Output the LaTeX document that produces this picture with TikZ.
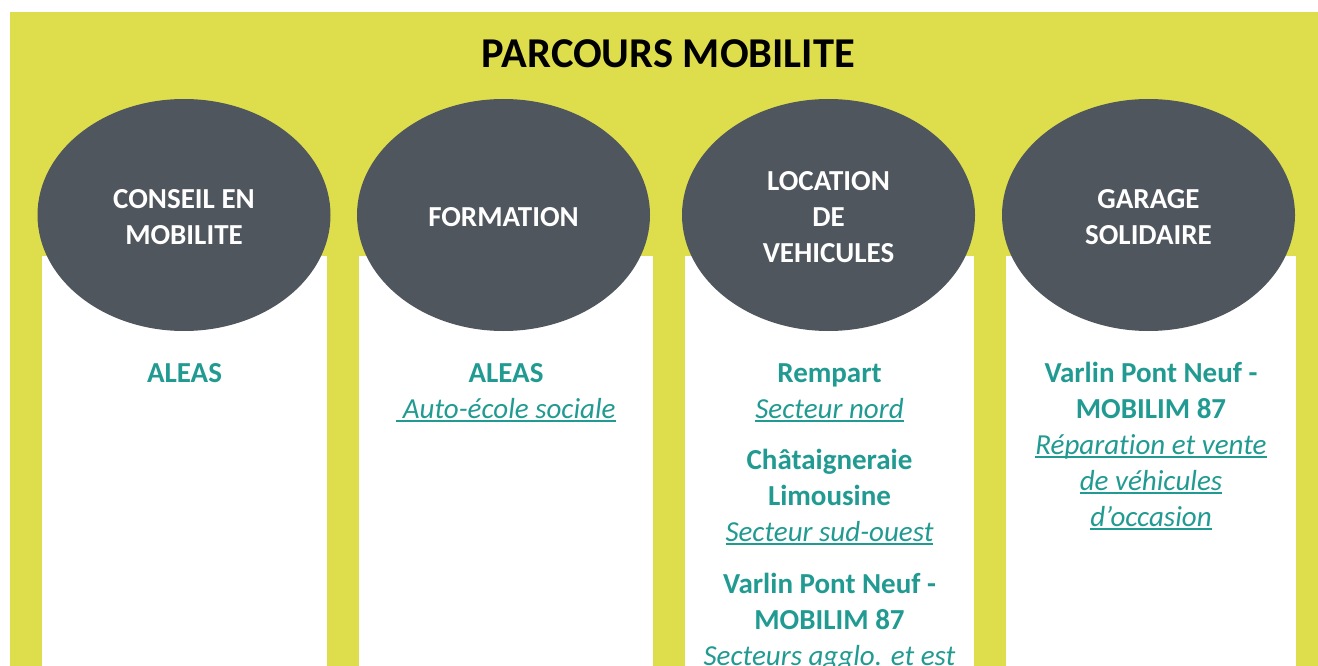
\documentclass[tikz,border=0pt]{standalone}
\usepackage{fontspec}
\setmainfont{Carlito}[Ligatures={NoCommon}]
\usetikzlibrary{shapes.geometric}
\definecolor{bgyellow}{RGB}{222,222,77}
\definecolor{ovalgrey}{RGB}{80,86,93}
\definecolor{tealtxt}{RGB}{33,155,145}
\newcommand\ulin[1]{\setbox0\hbox{#1}\rlap{\rule[-0.15em]{\wd0}{0.07em}}\box0}
\begin{document}
\begin{tikzpicture}[x=1pt,y=-1pt,
  oval/.style={ellipse, fill=ovalgrey, minimum width=293pt, minimum height=232pt, inner sep=0pt},
  head/.style={anchor=base, text=white, font=\fontsize{29}{36}\selectfont\bfseries, inner sep=0pt},
  org/.style={anchor=base, text=tealtxt, font=\fontsize{29}{36}\selectfont\bfseries, inner sep=0pt},
  sub/.style={anchor=base, text=tealtxt, font=\fontsize{29}{36}\selectfont\itshape, inner sep=0pt},
  ttl/.style={anchor=base, text=black, font=\fontsize{42.5}{48}\selectfont\bfseries, inner sep=0pt}
]
\clip (0,0) rectangle (1318,666);
\fill[white] (0,0) rectangle (1318,666);
\fill[bgyellow] (10,12) rectangle (1318,666);
% columns
\fill[white] (42,256) rectangle (327,666);
\fill[white] (359,256) rectangle (653,666);
\fill[white] (685,256) rectangle (974,666);
\fill[white] (1006,256) rectangle (1296,666);
% title
\node[ttl] (title) at (668.5,68) {PARCOURS MOBILITE};
% ovals
\node[oval] (o1) at (184,215) {};
\node[oval] (o2) at (503.5,215) {};
\node[oval] (o3) at (828.5,215) {};
\node[oval] (o4) at (1148.5,215) {};
% oval labels
\node[head] (h1a) at (184,208) {CONSEIL EN};
\node[head] (h1b) at (184,244) {MOBILITE};
\node[head] (h2a) at (503.5,226) {FORMATION};
\node[head] (h3a) at (828.5,190) {LOCATION};
\node[head] (h3b) at (828.5,226) {DE};
\node[head] (h3c) at (828.5,262) {VEHICULES};
\node[head] (h4a) at (1148.5,208) {GARAGE};
\node[head] (h4b) at (1148.5,244) {SOLIDAIRE};
% column 1
\node[org] (c1a) at (184.5,382) {ALEAS};
% column 2
\node[org] (c2a) at (506,382) {ALEAS};
\node[sub] (c2b) at (506,418) {\ulin{\ Auto-école sociale}};
% column 3
\node[org] (c3a) at (829.5,382) {Rempart};
\node[sub] (c3b) at (829.5,418) {\ulin{Secteur nord}};
\node[org] (c3c) at (829.5,469) {Châtaigneraie};
\node[org] (c3d) at (829.5,505) {Limousine};
\node[sub] (c3e) at (829.5,541) {\ulin{Secteur sud-ouest}};
\node[org] (c3f) at (829.5,593) {Varlin Pont Neuf -};
\node[org] (c3g) at (829.5,629) {MOBILIM 87};
\node[sub] (c3h) at (829.5,665) {\ulin{Secteurs agglo. et est}};
% column 4
\node[org] (c4a) at (1151,382) {Varlin Pont Neuf -};
\node[org] (c4b) at (1151,418) {MOBILIM 87};
\node[sub] (c4c) at (1151,454) {\ulin{Répara\kern0pt tion et vente}};
\node[sub] (c4d) at (1151,490) {\ulin{de véhicules}};
\node[sub] (c4e) at (1151,526) {\ulin{d’occasion}};
\end{tikzpicture}
\end{document}
